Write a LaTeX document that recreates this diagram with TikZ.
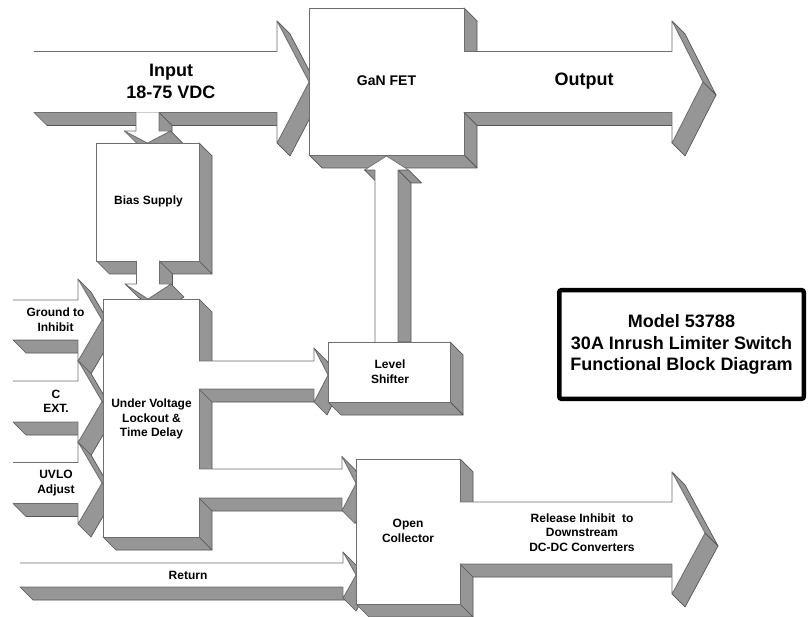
\documentclass[tikz,border=0pt]{standalone}
\usepackage{fontspec}
\setmainfont{Liberation Sans}
\begin{document}
\begin{tikzpicture}[x=1pt,y=-1pt,
  extr/.style={fill={rgb,255:red,150;green,150;blue,150},draw={rgb,255:red,85;green,85;blue,85},line width=0.7pt,line join=round},
  fedge/.style={draw={rgb,255:red,110;green,110;blue,110},line width=0.7pt,line join=round},
  lbl/.style={inner sep=0pt,align=center,font=\bfseries\fontsize{12}{14.5}\selectfont},
  big/.style={inner sep=0pt,align=center,font=\bfseries\fontsize{18}{21.5}\selectfont}]
\def\dd{13}
% 3D box: x0 y0 x1 y1
\newcommand\BoxTD[4]{%
  \filldraw[extr] (#3,#2) -- (#3+\dd,#2+\dd) -- (#3+\dd,#4+\dd) -- (#3,#4) -- cycle;
  \filldraw[extr] (#1,#4) -- (#3,#4) -- (#3+\dd,#4+\dd) -- (#1+\dd,#4+\dd) -- cycle;
  \fill[white] (#1,#2) rectangle (#3,#4);
  \draw[fedge] (#1,#2) rectangle (#3,#4);}
% right arrow: x0 xb xt yc sh hh
\newcommand\ArrR[6]{%
  \filldraw[extr] (#2,#4+#5) -- (#1,#4+#5) -- (#1+\dd,#4+#5+\dd) -- (#2+\dd,#4+#5+\dd) -- cycle;
  \filldraw[extr] (#3,#4) -- (#2,#4+#6) -- (#2+\dd,#4+#6+\dd) -- (#3+\dd,#4+\dd) -- cycle;
  \filldraw[extr] (#2,#4-#6) -- (#3,#4) -- (#3+\dd,#4+\dd) -- (#2+\dd,#4-#6+\dd) -- cycle;
  \fill[white] (#1,#4-#5) -- (#2,#4-#5) -- (#2,#4-#6) -- (#3,#4) -- (#2,#4+#6) -- (#2,#4+#5) -- (#1,#4+#5) -- cycle;
  \draw[fedge] (#1,#4-#5) -- (#2,#4-#5) -- (#2,#4-#6) -- (#3,#4) -- (#2,#4+#6) -- (#2,#4+#5) -- (#1,#4+#5);}
% down arrow: xc y0 yb yt sh hh
\newcommand\ArrD[6]{%
  \filldraw[extr] (#1+#5,#2) -- (#1+#5,#3) -- (#1+#5+\dd,#3+\dd) -- (#1+#5+\dd,#2+\dd) -- cycle;
  \filldraw[extr] (#1-#6,#3) -- (#1,#4) -- (#1+\dd,#4+\dd) -- (#1-#6+\dd,#3+\dd) -- cycle;
  \filldraw[extr] (#1,#4) -- (#1+#6,#3) -- (#1+#6+\dd,#3+\dd) -- (#1+\dd,#4+\dd) -- cycle;
  \fill[white] (#1-#5,#2) -- (#1-#5,#3) -- (#1-#6,#3) -- (#1,#4) -- (#1+#6,#3) -- (#1+#5,#3) -- (#1+#5,#2) -- cycle;
  \draw[fedge] (#1-#5,#2) -- (#1-#5,#3) -- (#1-#6,#3) -- (#1,#4) -- (#1+#6,#3) -- (#1+#5,#3) -- (#1+#5,#2);}
% up arrow: xc y0 yb yt sh hh
\newcommand\ArrU[6]{%
  \filldraw[extr] (#1+#5,#3) -- (#1+#5+\dd,#3+\dd) -- (#1+#5+\dd,#2) -- (#1+#5,#2) -- cycle;
  \filldraw[extr] (#1+#6,#3) -- (#1+#5,#3) -- (#1+#5+\dd,#3+\dd) -- (#1+#6+\dd,#3+\dd) -- cycle;
  \filldraw[extr] (#1-#6,#3) -- (#1-#5,#3) -- (#1-#5+\dd,#3+\dd) -- (#1-#6+\dd,#3+\dd) -- cycle;
  \fill[white] (#1-#5,#2) -- (#1-#5,#3) -- (#1-#6,#3) -- (#1,#4) -- (#1+#6,#3) -- (#1+#5,#3) -- (#1+#5,#2) -- cycle;
  \draw[fedge] (#1-#5,#2) -- (#1-#5,#3) -- (#1-#6,#3) -- (#1,#4) -- (#1+#6,#3) -- (#1+#5,#3) -- (#1+#5,#2);}

\useasboundingbox (0,0) rectangle (808,617);
\fill[white] (0,0) rectangle (808,617);

% input arrow and bias supply
\ArrR{34}{277}{309}{82}{30.5}{61}
\ArrD{147.5}{112.5}{131}{143}{11.5}{23}
\BoxTD{96.5}{143}{199}{261}
\ArrD{148}{261}{284}{299}{11.5}{23}
% GaN FET and output
\BoxTD{309}{8}{464}{155}
\ArrR{464}{672}{703}{82}{30.5}{61}
\ArrU{386.5}{342}{170}{156}{11.5}{22}
% left inputs
\ArrR{13}{78}{102}{320}{20}{41}
\ArrR{13}{78}{102}{401.5}{20.5}{41}
\ArrR{13}{78}{102}{483}{20.5}{41}
% UVLO
\BoxTD{103}{299}{199}{537}
\ArrR{199}{314}{328}{375}{14}{27}
\BoxTD{328}{342}{450}{402}
\ArrR{199}{342}{356}{483.5}{14.5}{27}
\ArrR{20}{343}{356}{575}{12}{23}
\BoxTD{356}{459}{460}{604}
\ArrR{460}{672}{705}{533}{31}{61}
% title box
\draw[line width=4.5pt,rounded corners=2pt] (559.25,290.25) rectangle (803.75,398.75);

% labels
\node[big] (tin) at (171,81.5) {Input\\18-75 VDC};
\node[lbl,font=\bfseries\fontsize{14}{16}\selectfont] (tgan) at (386.5,81) {GaN FET};
\node[big] (tout) at (584,81.5) {Output};
\node[lbl] (tbias) at (148.5,201) {Bias Supply};
\node[lbl] (tgnd) at (55.5,319.5) {Ground to\\Inhibit};
\node[lbl] (tcext) at (56,401.5) {C\\EXT.};
\node[lbl] (tuadj) at (56,483) {UVLO\\Adjust};
\node[lbl] (tuvlo) at (151.5,419) {Under Voltage\\Lockout \&\\Time Delay};
\node[lbl] (tlev) at (390,371.5) {Level\\Shifter};
\node[lbl] (toc) at (408,531) {Open\\Collector};
\node[lbl] (trel) at (582,532.5) {Release Inhibit \ to\\Downstream\\DC-DC Converters};
\node[lbl] (tret) at (188,575) {Return};
\node[big] (tmodel) at (681.5,344.5) {Model 53788\\30A Inrush Limiter Switch\\Functional Block Diagram};
\end{tikzpicture}
\end{document}
